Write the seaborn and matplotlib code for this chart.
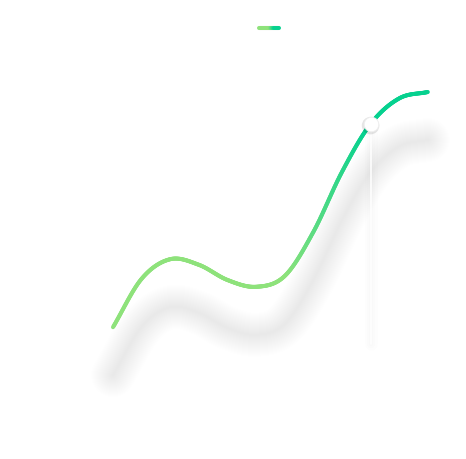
import numpy as np
import pandas as pd
import matplotlib
matplotlib.use("Agg")
import matplotlib.pyplot as plt
import seaborn as sns
from matplotlib.collections import LineCollection
from matplotlib.colors import LinearSegmentedColormap

# ---- data ----
months = ["Jan", "Feb", "Mar", "Apr", "May", "Jun",
          "Jul", "Aug", "Sep", "Oct", "Nov", "Dec"]
values = [18.2, 30.3, 35.2, 33.8, 30.0, 28.3, 31.0, 42.0, 57.0, 69.0, 75.4, 77.0]
highlight_month = "Oct"
axis_floor = 14          # bottom of the pointer line

# ---- style ----
green = "#8ee27b"
teal = "#06d18f"
cmap = LinearSegmentedColormap.from_list(
    "g", [(0.0, green), (0.55, green), (0.8, teal), (1.0, teal)])

sns.set_theme(style="white")
W, H = 466, 459
fig = plt.figure(figsize=(W / 100, H / 100), dpi=100)
fig.patch.set_facecolor("white")
ax = fig.add_axes([0, 0, 1, 1])
ax.set_facecolor("white")
ax.axis("off")

px_per_cat = (427.8 - 113) / 11
ax.set_xlim(-113 / px_per_cat, 11 + (W - 427.8) / px_per_cat)
ax.set_ylim(-(H - 400) / 4, 100)

df = pd.DataFrame({"month": months, "value": values})
df["x"] = np.arange(len(df))

# ---- smooth path (Catmull-Rom bezier, in display space) ----
fig.canvas.draw()
pts = ax.transData.transform(np.column_stack([df["x"], df["value"]]))
n = len(pts)
ext = np.vstack([2 * pts[0] - pts[1], pts, 2 * pts[-1] - pts[-2]])
curve = []
ts = np.linspace(0, 1, 40)
for i in range(n - 1):
    p0, p3 = ext[i + 1], ext[i + 2]
    p1 = p0 + (ext[i + 2] - ext[i]) / 6
    p2 = p3 - (ext[i + 3] - ext[i + 1]) / 6
    for t in (ts if i == 0 else ts[1:]):
        b = ((1 - t) ** 3) * p0 + 3 * ((1 - t) ** 2) * t * p1 + 3 * (1 - t) * t * t * p2 + t ** 3 * p3
        curve.append(b)
curve = np.array(curve)
curve_data = ax.transData.inverted().transform(curve)
cx, cy = curve_data[:, 0], curve_data[:, 1]

# ---- blurred shadow below the line ----
shadow_off = 48 / 4.0
for w in np.arange(2, 46, 2):
    sns.lineplot(x=cx, y=cy - shadow_off, sort=False, estimator=None,
                 color="black", alpha=0.0026, linewidth=w * 0.72,
                 solid_capstyle="round", ax=ax, legend=False, zorder=1)

# ---- pointer line (with a faint soft halo) ----
hi = months.index(highlight_month)
for w in (3, 6, 9):
    ax.plot([hi, hi], [axis_floor, values[hi] - 2], color="black",
            alpha=0.006, lw=w, zorder=2)
ax.plot([hi, hi], [axis_floor, values[hi] - 2], color="white", lw=1.1, zorder=2)

# ---- gradient main line ----
segs = np.stack([curve_data[:-1], curve_data[1:]], axis=1)
frac = (curve[:-1, 0] + curve[1:, 0]) / 2
frac = (frac - curve[0, 0]) / (curve[-1, 0] - curve[0, 0])
lc = LineCollection(segs, colors=cmap(frac), linewidths=2.9,
                    capstyle="round", joinstyle="round", zorder=3)
ax.add_collection(lc)

# ---- highlighted point ----
sns.scatterplot(x=[hi], y=[values[hi] - 0.4], s=160, color="black", alpha=0.10,
                edgecolor="none", ax=ax, zorder=4, legend=False)
sns.scatterplot(x=[hi], y=[values[hi]], s=110, color="white",
                edgecolor="#eeeeee", linewidth=0.6, ax=ax, zorder=5, legend=False)

# ---- legend icon (gradient, no text) ----
lx = np.linspace(259, 279, 40) / W
ly = np.full_like(lx, 1 - 28 / H)
lsegs = np.stack([np.column_stack([lx[:-1], ly[:-1]]),
                  np.column_stack([lx[1:], ly[1:]])], axis=1)
lf = np.linspace(0, 1, 39)
llc = LineCollection(lsegs, colors=cmap(lf), linewidths=2.9,
                     capstyle="round", transform=fig.transFigure, zorder=6)
ax.add_collection(llc)

fig.savefig("out.png", dpi=100, facecolor="white")
